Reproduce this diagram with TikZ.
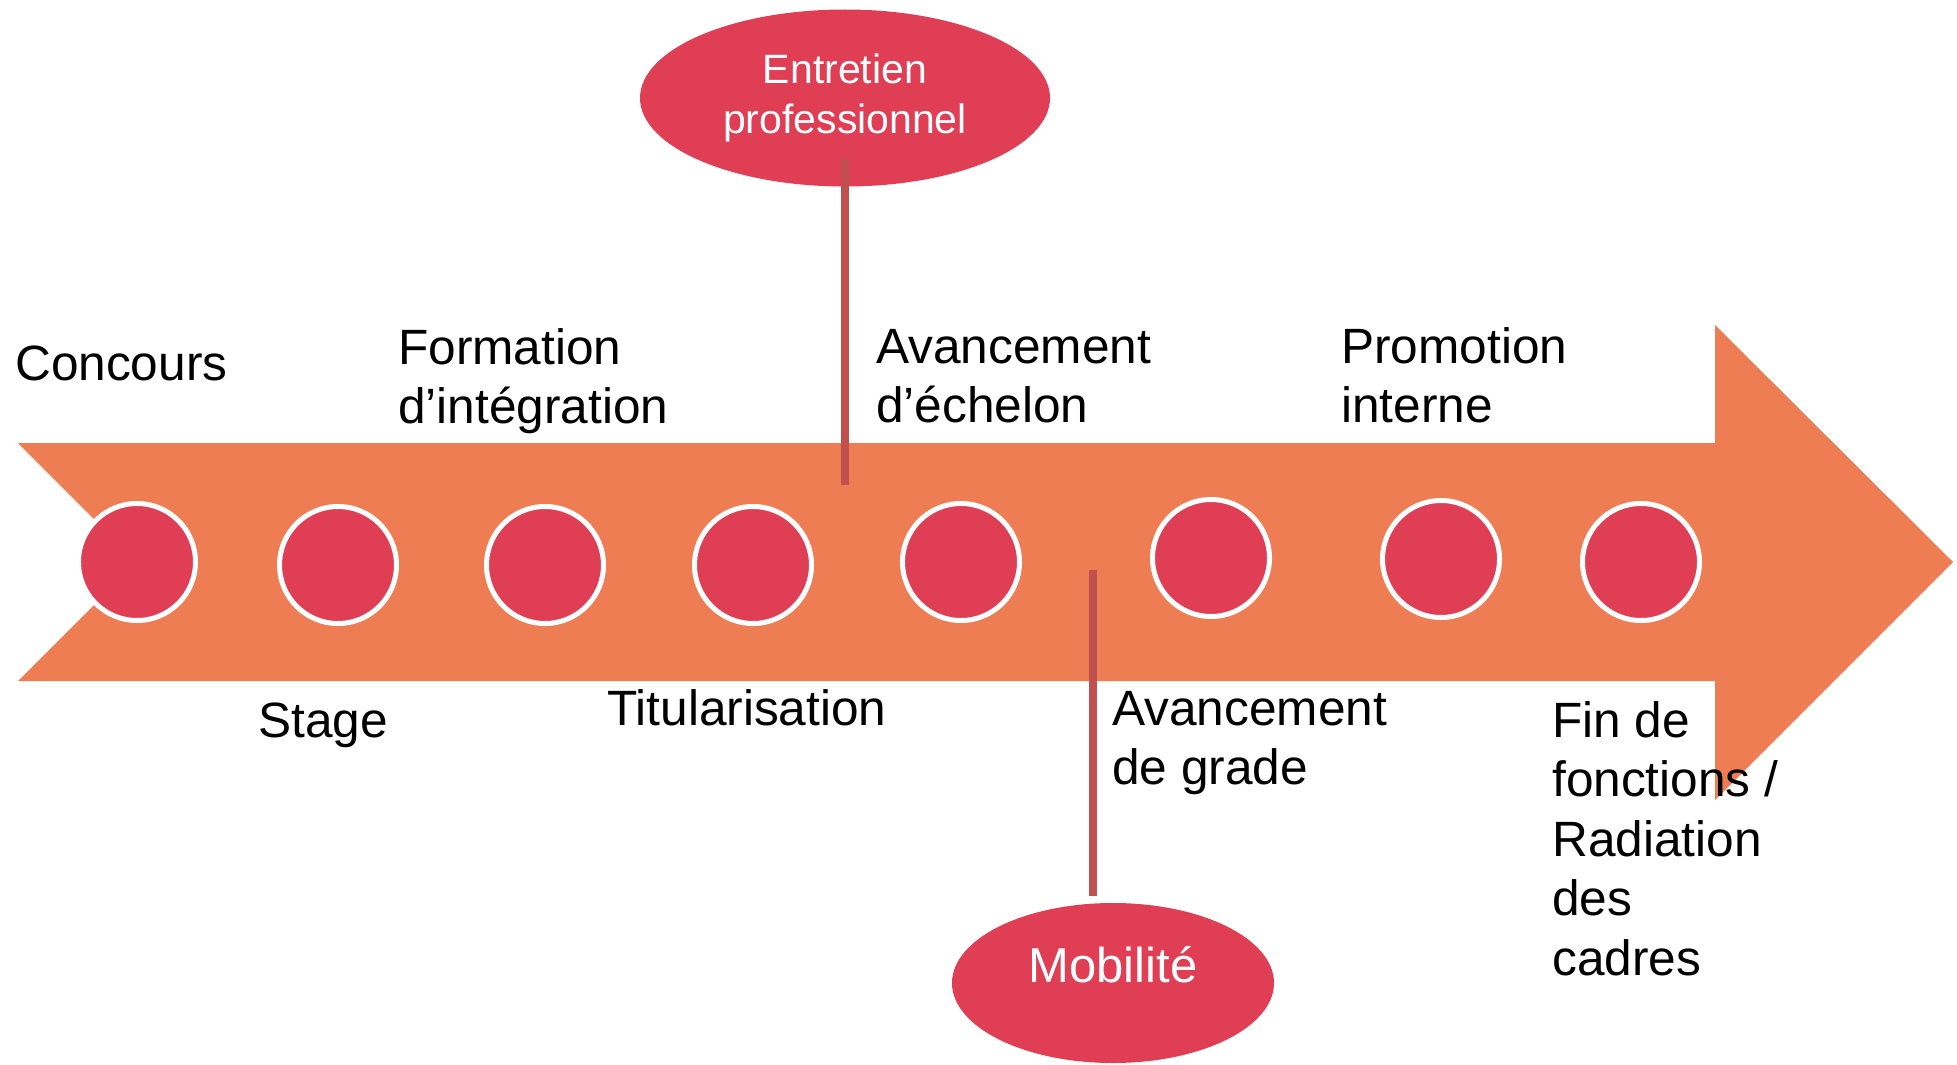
\documentclass[tikz,border=0pt]{standalone}
\usepackage{fontspec}
\setmainfont{Liberation Sans}
\usetikzlibrary{shapes.geometric}

\definecolor{arroworange}{RGB}{238,125,84}
\definecolor{stepred}{RGB}{223,62,84}
\definecolor{stemred}{RGB}{192,80,77}

% stacked lines of a label, aligned on the baseline of the first line
\newcommand{\stk}[1]{\begin{tabular}[t]{@{}l@{}}#1\end{tabular}}

\tikzset{
  dot/.style={circle, fill=stepred, draw=white, line width=5pt,
              minimum size=117pt, inner sep=0pt},
  bubble/.style={ellipse, fill=stepred, inner sep=0pt},
  lbl/.style={anchor=base west, inner sep=0pt, text=black,
              font=\fontsize{49.6}{59.5}\selectfont},
  bubtext/.style={text=white, inner sep=0pt},
  stem/.style={draw=stemred, line width=8pt},
}

\begin{document}
\begin{tikzpicture}[x=1pt, y=-1pt]
\useasboundingbox (0,0) rectangle (1957,1065);

% timeline arrow with notched tail
\fill[arroworange] (18,443) -- (1715,443) -- (1715,325) -- (1953,562)
  -- (1715,800) -- (1715,681) -- (18,681) -- (137,562) -- cycle;

% steps
\node[dot] (c1) at (137,562) {};
\node[dot] (c2) at (338,565) {};
\node[dot] (c3) at (545,565) {};
\node[dot] (c4) at (753,565) {};
\node[dot] (c5) at (961,562) {};
\node[dot] (c6) at (1211,558) {};
\node[dot] (c7) at (1441,559) {};
\node[dot] (c8) at (1641,562) {};

% annual review bubble and its stem
\node[bubble, minimum width=410pt, minimum height=177pt] (entretien) at (845,98) {};
\node[bubtext, align=center, font=\fontsize{41}{50}\selectfont] (entretienTxt) at (845,98)
  {Entretien\\professionnel};
\coordinate (entTop) at (845,158);
\coordinate (entFoot) at (845,485);
\draw[stem] (entTop) -- (entFoot);

% mobility bubble and its stem
\node[bubble, minimum width=322pt, minimum height=160pt] (mobilite) at (1113,983) {};
\node[bubtext, anchor=base, font=\fontsize{49}{59.5}\selectfont] (mobiliteTxt) at (1113,982) {Mobilité};
\coordinate (mobTop) at (1093,570);
\coordinate (mobFoot) at (1093,896);
\draw[stem] (mobTop) -- (mobFoot);

% labels above the arrow
\node[lbl] (concours) at (15,380) {Concours};
\node[lbl] (formation) at (398,364) {\stk{Formation\\d’intégration}};
\node[lbl] (echelon) at (876,363) {\stk{Avancement\\d’échelon}};
\node[lbl] (promotion) at (1341,363) {\stk{Promotion\\interne}};

% labels below the arrow
\node[lbl] (stage) at (258,737) {Stage};
\node[lbl] (titular) at (607,725) {Titularisation};
\node[lbl] (grade) at (1112,725) {\stk{Avancement\\de grade}};
\node[lbl] (fin) at (1552,737) {\stk{Fin de\\fonctions /\\Radiation\\des\\cadres}};
\end{tikzpicture}
\end{document}
